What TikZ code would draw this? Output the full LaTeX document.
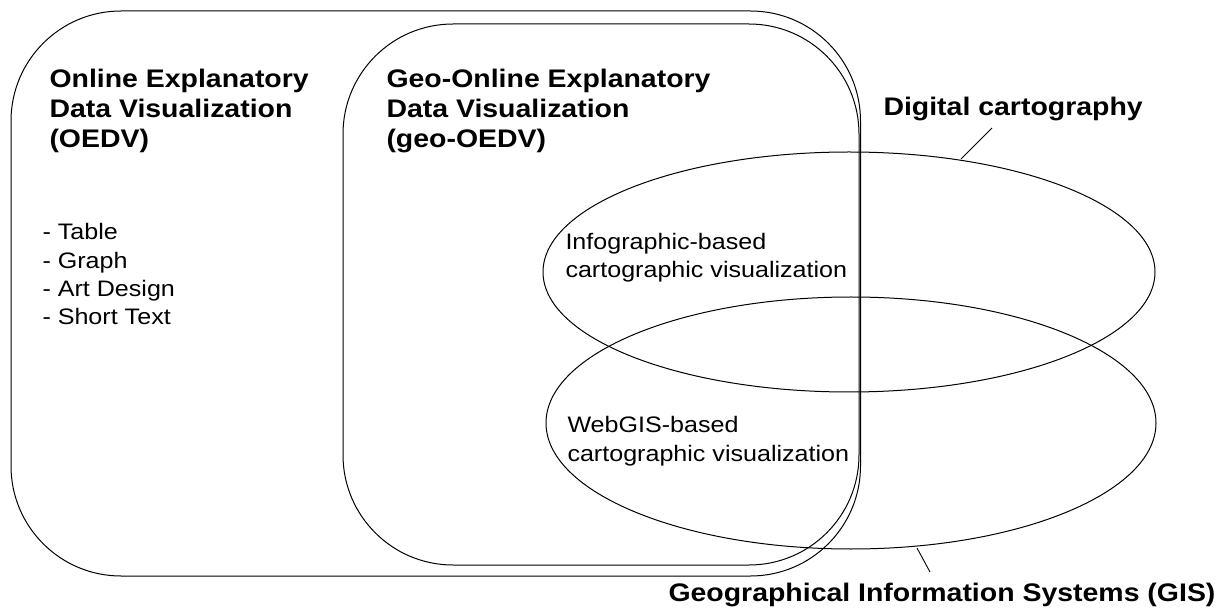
\documentclass[tikz,border=0pt]{standalone}
\usepackage{fontspec}
\setmainfont{Liberation Sans}
\newfontfamily\diagfont[FakeStretch=1.12]{Liberation Sans}
\usetikzlibrary{shapes.geometric}
\begin{document}
\begin{tikzpicture}[x=1pt,y=-1pt,line width=1pt,
  box/.style={draw,rounded corners=110pt,inner sep=0pt},
  ell/.style={draw,ellipse,inner sep=0pt},
  title/.style={font=\diagfont\fontsize{25.4}{30}\selectfont\bfseries,align=left,anchor=base west,inner sep=0pt},
  body/.style={font=\diagfont\fontsize{22.4}{28.4}\selectfont,align=left,anchor=base west,inner sep=0pt},
  leader/.style={draw,line width=0.9pt}]
\useasboundingbox (0,0) rectangle (1221,609);
% rounded areas
\node[box,minimum width=849.5pt,minimum height=565pt] (oedv) at (435.75,293.5) {};
\node[box,minimum width=516pt,minimum height=541pt] (geo) at (601,294.5) {};
% ellipses
\node[ell,minimum width=612pt,minimum height=240pt] (dc) at (849,272) {};
\node[ell,minimum width=610pt,minimum height=252pt] (gis) at (851,423) {};
% texts (base anchor = baseline of the last line)
\node[title] (t1) at (49,148) {Online Explanatory\\Data Visualization\\(OEDV)};
\node[title] (t2) at (386,148) {Geo-Online Explanatory\\Data Visualization\\(geo-OEDV)};
\node[body] (list) at (42,325) {- Table\\- Graph\\- Art Design\\- Short Text};
\node[body] (info) at (565,278) {Infographic-based\\cartographic visualization};
\node[body] (web) at (567,461) {WebGIS-based\\cartographic visualization};
\node[title] (dclab) at (883,116) {Digital cartography};
\node[title] (gislab) at (668,601) {Geographical Information Systems (GIS)};
% leaders
\coordinate (dcA) at (992,128);
\coordinate (dcB) at (961,159);
\draw[leader] (dcA) -- (dcB);
\coordinate (gisA) at (917,548);
\coordinate (gisB) at (930,572);
\draw[leader] (gisA) -- (gisB);
\end{tikzpicture}
\end{document}
